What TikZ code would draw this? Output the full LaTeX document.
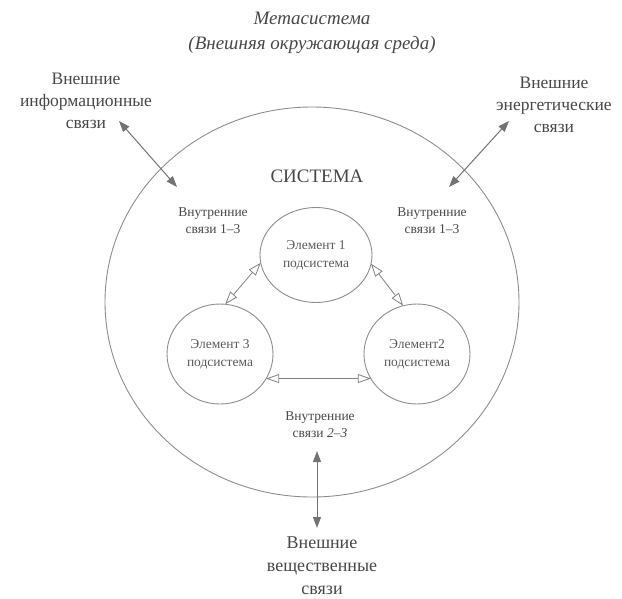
\documentclass[tikz,border=0pt]{standalone}
\usepackage{fontspec}
\setmainfont{Liberation Serif}
\usetikzlibrary{shapes.geometric,arrows.meta}
\begin{document}
\begin{tikzpicture}[x=1pt,y=-1pt,
 txt/.style={text=black!72, align=center, inner sep=0},
 ell/.style={ellipse, draw=black!45, line width=0.9pt, inner sep=0, outer sep=0, text=black!65, align=center},
 inarrow/.style={draw=black!50, line width=0.8pt, {Triangle[open,length=13pt,width=9pt]}-{Triangle[open,length=13pt,width=9pt]}},
 exarrow/.style={draw=black!55, line width=1pt, {Triangle[length=11pt,width=8pt]}-{Triangle[length=11pt,width=8pt]}},
]
\useasboundingbox (0,0) rectangle (622,598);
% titles
\node[txt, font=\fontsize{19}{24}\selectfont\itshape] (t1) at (312,18) {Метасистема};
\node[txt, font=\fontsize{19}{24}\selectfont\itshape] (t2) at (312,45) {(Внешняя окружающая среда)};
% big system ellipse
\node[ell, minimum width=414pt, minimum height=390pt] (sys) at (312,302) {};
\node[txt, font=\fontsize{19}{24}\selectfont] (sysl) at (317,176) {СИСТЕМА};
% elements
\node[ell, minimum width=112pt, minimum height=95pt, font=\fontsize{13.5}{18}\selectfont] (e1) at (316,255) {Элемент 1\\подсистема};
\node[ell, minimum width=106pt, minimum height=100pt, font=\fontsize{13.5}{18}\selectfont] (e3) at (220,354) {Элемент 3\\подсистема};
\node[ell, minimum width=106pt, minimum height=100pt, font=\fontsize{13.5}{18}\selectfont] (e2) at (417,354) {Элемент2\\подсистема};
% internal links
\draw[inarrow] (e1.188) -- (e3.84);
\draw[inarrow] (e1.-9) -- (e2.106);
\draw[inarrow] (e3.-28) -- (e2.208);
% internal labels
\node[txt, font=\fontsize{13.5}{17}\selectfont] (il) at (213,221) {Внутренние\\связи 1--3};
\node[txt, font=\fontsize{13.5}{17}\selectfont] (ir) at (432,221) {Внутренние\\связи 1--3};
\node[txt, font=\fontsize{13.5}{17}\selectfont] (ib) at (320,425) {Внутренние\\связи \textit{2--3}};
% external labels
\node[txt, font=\fontsize{17.5}{22}\selectfont] (xl) at (86,101) {Внешние\\информационные\\связи};
\node[txt, font=\fontsize{17.5}{22}\selectfont] (xr) at (554,105) {Внешние\\энергетические\\связи};
\node[txt, font=\fontsize{18}{23}\selectfont] (xb) at (322,566) {Внешние\\вещественные\\связи};
% external arrows
\coordinate (li1) at (119,121); \coordinate (li2) at (177,187);
\coordinate (re1) at (509,121); \coordinate (re2) at (449,187);
\coordinate (bo1) at (317,451); \coordinate (bo2) at (317,528);
\draw[exarrow] (li1) -- (li2);
\draw[exarrow] (re1) -- (re2);
\draw[exarrow] (bo1) -- (bo2);
\end{tikzpicture}
\end{document}
